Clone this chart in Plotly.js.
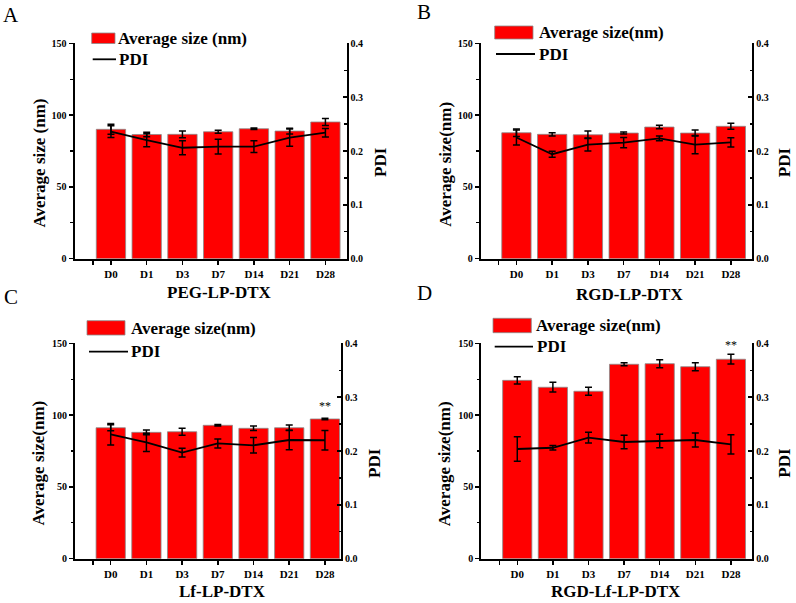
<!DOCTYPE html>
<html>
<head>
<meta charset="utf-8">
<script src="https://cdn.plot.ly/plotly-3.0.1.min.js"></script>
<style>html,body{margin:0;padding:0;background:#fff;}#chart{width:796px;height:603px;}</style>
</head>
<body>
<div id="chart"></div>
<script>
const categories = ['D0','D1','D3','D7','D14','D21','D28'];

const sizeA    = [90.1, 86.5, 86.6, 88.4, 90.5, 88.9, 95.2];
const sizeErrA = [3.5, 1.5, 2.3, 1.0, 0.5, 2.0, 2.4];
const pdiA     = [0.236, 0.220, 0.206, 0.208, 0.208, 0.225, 0.234];
const pdiErrA  = [0.011, 0.012, 0.013, 0.0136, 0.011, 0.016, 0.008];

const sizeB    = [87.7, 86.6, 86.3, 87.5, 91.7, 87.5, 92.2];
const sizeErrB = [2.6, 1.1, 2.6, 0.7, 1.2, 2.1, 2.1];
const pdiB     = [0.225, 0.194, 0.212, 0.2155, 0.2235, 0.212, 0.216];
const pdiErrB  = [0.014, 0.0056, 0.012, 0.0096, 0.0043, 0.017, 0.0084];

const sizeC    = [91.2, 88.0, 88.4, 92.9, 90.8, 91.2, 97.3];
const sizeErrC = [2.1, 1.6, 2.4, 0.5, 1.6, 1.9, 0.5];
const pdiC     = [0.231, 0.216, 0.197, 0.214, 0.2106, 0.2204, 0.220];
const pdiErrC  = [0.020, 0.017, 0.008, 0.0084, 0.0145, 0.018, 0.018];

const sizeD    = [124.2, 119.4, 116.6, 135.4, 135.8, 133.7, 138.9];
const sizeErrD = [2.5, 3.4, 2.8, 1.0, 2.8, 2.8, 3.4];
const pdiD     = [0.2037, 0.206, 0.2247, 0.2167, 0.2186, 0.2204, 0.2124];
const pdiErrD  = [0.0226, 0.004, 0.010, 0.0124, 0.0124, 0.013, 0.018];

const panelLetters = ['A','B','C','D'];
const xTitles = ['PEG-LP-DTX','RGD-LP-DTX','Lf-LP-DTX','RGD-Lf-LP-DTX'];
const sizeLegend = ['Average size (nm)','Average size(nm)','Average size(nm)','Average size(nm)'];
const yTitles = ['Average size (nm)','Average size(nm)','Average size(nm)','Average size(nm)'];
const starLabel = '**';

const W = 796, H = 603;
const px = v => v / W;
const py = v => 1 - v / H;
const FONT = 'Liberation Serif, Times New Roman, serif';

const panels = [
  {size:sizeA, se:sizeErrA, pdi:pdiA, pe:pdiErrA, x0:74.5, x1:346.5, y0:258.7, y1:43.3, r:[-1.02,6.59],
   ytx:38.5, yty:163, pdx:380, pdy:162, xtx:220, xty:292, let:[11,15],
   box:[91.7,115,33,43.5], txt1:[117,38], line:[92.7,116,59.3], txt2:[117.5,59], star:null},
  {size:sizeB, se:sizeErrB, pdi:pdiB, pe:pdiErrB, x0:480.7, x1:752.3, y0:258.7, y1:43.3, r:[-1.0,6.6],
   ytx:444.7, yty:164, pdx:784.7, pdy:162.5, xtx:629, xty:294, let:[424,12],
   box:[494.7,533,26,39], txt1:[538,33], line:[496,535,54], txt2:[538,54], star:null},
  {size:sizeC, se:sizeErrC, pdi:pdiC, pe:pdiErrC, x0:75, x1:341, y0:558.7, y1:343.3, r:[-1.0,6.45],
   ytx:38.5, yty:463, pdx:375, pdy:463, xtx:222.5, xty:591.5, let:[11,297],
   box:[87,125,320.7,335], txt1:[130,328], line:[89,128,351.7], txt2:[130,351], star:106.5},
  {size:sizeD, se:sizeErrD, pdi:pdiD, pe:pdiErrD, x0:481.3, x1:752.3, y0:558.7, y1:343.3, r:[-1.01,6.6],
   ytx:444.7, yty:463.5, pdx:784.7, pdy:463, xtx:616, xty:591.5, let:[424,293],
   box:[493,531.3,318.3,332.7], txt1:[534.7,325.5], line:[494.7,533,346.7], txt2:[536,346.5], star:148.8}
];

const idx = categories.map((c, i) => i);
const data = [];
const layout = {
  width: W, height: H, margin: {l:0, r:0, t:0, b:0},
  paper_bgcolor: '#fff', plot_bgcolor: 'rgba(0,0,0,0)',
  showlegend: false, bargap: 0.18,
  font: {family: FONT, color: '#000'},
  annotations: [], shapes: []
};

panels.forEach((p, k) => {
  const xa = k === 0 ? 'x' : 'x' + (k + 1);
  const yl = 'y' + (k === 0 ? '' : (2 * k + 1));
  const yr = 'y' + (2 * k + 2);
  const xName = k === 0 ? 'xaxis' : 'xaxis' + (k + 1);
  const ylName = k === 0 ? 'yaxis' : 'yaxis' + (2 * k + 1);
  const yrName = 'yaxis' + (2 * k + 2);

  data.push({
    type: 'bar', x: idx, y: p.size, xaxis: xa, yaxis: yl, width: 0.82,
    marker: {color: '#ff0000', line: {color: '#8a8a8a', width: 0.8}},
    error_y: {type: 'data', array: p.se, visible: true, color: '#000', thickness: 1.5, width: 3.5},
    hoverinfo: 'skip'
  });
  data.push({
    type: 'scatter', mode: 'lines', x: idx, y: p.pdi, xaxis: xa, yaxis: yr,
    line: {color: '#000', width: 1.8},
    error_y: {type: 'data', array: p.pe, visible: true, color: '#000', thickness: 1.5, width: 3.5},
    hoverinfo: 'skip'
  });

  layout[xName] = {
    domain: [px(p.x0), px(p.x1)], anchor: yl, range: p.r,
    tickvals: [-0.5].concat(idx), ticktext: [''].concat(categories),
    ticks: 'outside', ticklen: 4, tickwidth: 1.5, tickcolor: '#000',
    showline: true, linecolor: '#000', linewidth: 2, showgrid: false, zeroline: false,
    tickfont: {family: FONT, size: 11, weight: 'bold', color: '#000'}, fixedrange: true
  };
  layout[ylName] = {
    domain: [py(p.y0), py(p.y1)], anchor: xa, range: [0, 150],
    tickvals: [0, 50, 100, 150], ticks: 'outside', ticklen: 4, tickwidth: 1.5, tickcolor: '#000',
    minor: {tickvals: [25, 75, 125], ticks: 'outside', ticklen: 2.5, tickwidth: 1.2, tickcolor: '#000'},
    showline: true, linecolor: '#000', linewidth: 2, showgrid: false, zeroline: false,
    tickfont: {family: FONT, size: 10, weight: 'bold', color: '#000'}, fixedrange: true
  };
  layout[yrName] = {
    domain: [py(p.y0), py(p.y1)], anchor: xa, overlaying: yl, side: 'right', range: [0, 0.4],
    tickvals: [0, 0.1, 0.2, 0.3, 0.4], tickformat: '.1f',
    ticks: 'inside', ticklen: 4, tickwidth: 1.5, tickcolor: '#000',
    minor: {tickvals: [0.05, 0.15, 0.25, 0.35], ticks: 'inside', ticklen: 2.5, tickwidth: 1.2, tickcolor: '#000'},
    showline: true, linecolor: '#000', linewidth: 2, showgrid: false, zeroline: false,
    tickfont: {family: FONT, size: 10, weight: 'bold', color: '#000'}, fixedrange: true
  };

  const ann = layout.annotations;
  ann.push({xref:'paper', yref:'paper', x:px(p.ytx), y:py(p.yty), text:'<b>'+yTitles[k]+'</b>', textangle:-90,
            showarrow:false, xanchor:'center', yanchor:'middle', font:{family:FONT, size:17, color:'#000'}});
  ann.push({xref:'paper', yref:'paper', x:px(p.pdx), y:py(p.pdy), text:'<b>PDI</b>', textangle:-90,
            showarrow:false, xanchor:'center', yanchor:'middle', font:{family:FONT, size:17, color:'#000'}});
  ann.push({xref:'paper', yref:'paper', x:px(p.xtx), y:py(p.xty), text:'<b>'+xTitles[k]+'</b>',
            showarrow:false, xanchor:'center', yanchor:'middle', font:{family:FONT, size:17, color:'#000'}});
  ann.push({xref:'paper', yref:'paper', x:px(p.let[0]), y:py(p.let[1]), text:panelLetters[k],
            showarrow:false, xanchor:'center', yanchor:'middle', font:{family:FONT, size:21, color:'#000'}});
  ann.push({xref:'paper', yref:'paper', x:px(p.txt1[0]), y:py(p.txt1[1]), text:'<b>'+sizeLegend[k]+'</b>',
            showarrow:false, xanchor:'left', yanchor:'middle', xshift:-1, font:{family:FONT, size:17, color:'#000'}});
  ann.push({xref:'paper', yref:'paper', x:px(p.txt2[0]), y:py(p.txt2[1]), text:'<b>PDI</b>',
            showarrow:false, xanchor:'left', yanchor:'middle', xshift:-1, font:{family:FONT, size:17, color:'#000'}});
  if (p.star !== null) {
    ann.push({xref:xa, yref:yl, x:idx[idx.length-1], y:p.star, text:starLabel,
              showarrow:false, xanchor:'center', yanchor:'middle', font:{family:FONT, size:12, color:'#000'}});
  }
  layout.shapes.push({type:'rect', xref:'paper', yref:'paper', x0:px(p.box[0]), x1:px(p.box[1]),
                      y0:py(p.box[3]), y1:py(p.box[2]), fillcolor:'#ff0000', line:{color:'#8a8a8a', width:0.8}});
  layout.shapes.push({type:'line', xref:'paper', yref:'paper', x0:px(p.line[0]), x1:px(p.line[1]),
                      y0:py(p.line[2]), y1:py(p.line[2]), line:{color:'#000', width:1.8}});
});

Plotly.newPlot('chart', data, layout, {displayModeBar: false, staticPlot: true});
</script>
</body>
</html>
